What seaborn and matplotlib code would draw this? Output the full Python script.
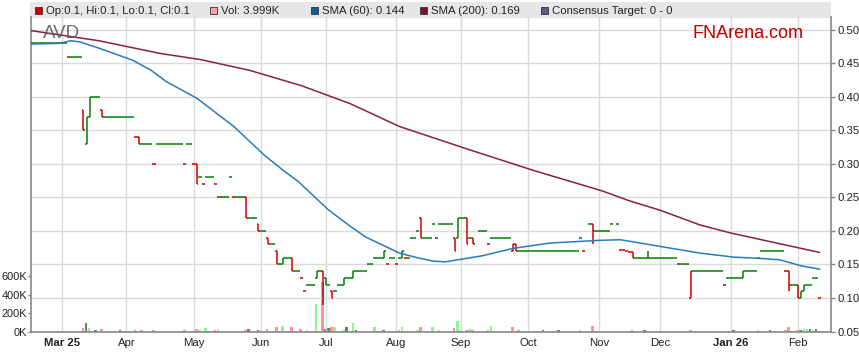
import numpy as np
import pandas as pd
import matplotlib
matplotlib.use("Agg")
import matplotlib.pyplot as plt
import matplotlib.patches as mpatches
import seaborn as sns

# one close per trading day, starting Mon 17 Feb 2025 (None = no trade)
close = [
    0.48, 0.48, 0.48, 0.48, 0.48, 0.48, 0.48, 0.48, 0.48, 0.48,
    0.48, 0.48, 0.46, 0.46, 0.46, 0.46, 0.46, 0.35, 0.37, 0.40,
    0.40, 0.40, 0.40, 0.37, 0.37, 0.37, 0.37, 0.37, 0.37, 0.37,
    0.37, 0.37, 0.37, 0.37, 0.34, 0.33, 0.33, 0.33, 0.33, 0.33,
    0.30, 0.33, 0.33, 0.33, 0.33, 0.33, 0.33, 0.33, 0.33, 0.33,
    0.30, 0.33, 0.33, 0.30, 0.27, 0.28, 0.27, 0.28, 0.28, 0.28,
    0.27, 0.25, 0.25, 0.25, 0.25, 0.28, 0.25, 0.25, 0.25, 0.25,
    0.22, 0.22, 0.22, 0.22, 0.20, 0.20, 0.20, 0.18, 0.18, 0.18,
    0.15, 0.15, 0.16, 0.16, 0.16, 0.14, 0.14, 0.14, 0.13, 0.11,
    0.12, 0.12, 0.12, 0.14, 0.14, 0.12, 0.12, 0.12, 0.10, 0.11,
    0.12, 0.12, 0.13, 0.13, 0.13, 0.14, 0.14, 0.14, 0.14, 0.14,
    0.15, 0.15, 0.16, 0.16, 0.16, 0.17, 0.15, 0.16, 0.16, 0.15,
    0.16, 0.17, 0.16, 0.16, 0.19, 0.19, 0.20, 0.19, 0.19, 0.19,
    0.19, 0.21, 0.19, 0.21, 0.21, 0.21, 0.21, 0.21, 0.17, 0.22,
    0.22, 0.22, 0.18, 0.19, 0.18, None, 0.20, 0.20, 0.20, 0.18,
    0.19, 0.19, 0.19, 0.19, 0.19, 0.19, 0.19, 0.18, 0.17, 0.17,
    0.17, 0.17, 0.17, 0.17, 0.17, 0.17, 0.17, 0.17, 0.17, 0.17,
    0.17, 0.17, 0.17, 0.17, 0.17, 0.17, 0.17, 0.17, 0.17, 0.19,
    0.17, None, 0.21, 0.20, 0.20, 0.20, 0.20, 0.20, 0.20, 0.21,
    None, 0.21, 0.172, 0.171, 0.170, 0.169, 0.16, 0.16, 0.16, 0.16,
    0.16, 0.16, 0.16, 0.16, 0.16, 0.16, 0.16, 0.16, 0.16, 0.16,
    0.16, 0.15, 0.15, 0.15, 0.15, 0.14, 0.14, 0.14, 0.14, 0.14,
    0.14, 0.14, 0.14, 0.14, 0.14, 0.14, 0.12, 0.13, 0.13, 0.13,
    0.13, 0.13, 0.14, 0.14, 0.14, 0.14, 0.14, 0.16, 0.17, 0.17,
    0.17, 0.17, 0.17, 0.17, 0.17, 0.17, 0.14, 0.12, 0.12, 0.12,
    0.10, 0.11, 0.12, 0.12, 0.12, 0.13, 0.13, 0.10,
]

# days where the open was not the close
open_px = {17: 0.38, 18: 0.33, 19: 0.37, 23: 0.38, 35: 0.34, 54: 0.30,
           70: 0.25, 74: 0.21, 77: 0.19, 80: 0.17, 82: 0.15, 85: 0.16,
           93: 0.13, 95: 0.14, 96: 0.13, 98: 0.11, 102: 0.12, 105: 0.13,
           115: 0.16, 121: 0.16, 127: 0.22, 138: 0.19, 139: 0.19, 142: 0.22,
           144: 0.19, 157: 0.17, 158: 0.18, 183: 0.21, 196: 0.169, 215: 0.10,
           232: 0.13, 247: 0.14, 250: 0.12, 251: 0.10, 252: 0.11}
extra_high = {201: 0.17}
extra_low = {95: 0.09, 183: 0.18, 247: 0.11}

# volume (thousands), p = down, g = up, n = unchanged
vol_day = [17, 18, 19, 21, 23, 29, 34, 36, 40, 50,
           54, 55, 57, 58, 60, 61, 70, 71, 74, 75,
           77, 80, 82, 85, 88, 90, 93, 95, 96, 97,
           98, 99, 102, 103, 105, 106, 112, 115, 120, 121,
           126, 127, 131, 133, 138, 139, 140, 142, 143, 144,
           149, 150, 157, 159, 167, 172, 179, 183, 196, 200,
           215, 229, 237, 241, 246, 247, 250, 251, 252, 253,
           254, 255, 256, 257]
vol_k = [40, 95, 35, 12, 25, 20, 12, 20, 20, 12,
         25, 12, 40, 10, 12, 12, 12, 25, 12, 20,
         25, 45, 65, 45, 25, 12, 300, 540, 25, 35,
         50, 50, 12, 50, 95, 12, 45, 20, 12, 45,
         12, 45, 45, 12, 35, 115, 12, 12, 22, 12,
         12, 60, 45, 12, 12, 12, 12, 55, 12, 20,
         20, 12, 12, 20, 12, 50, 20, 12, 22, 30,
         30, 12, 22, 4]
vol_kind = ("p n g n p n p p p p "
            "p g g n p p p n n p "
            "p p g p p g g p n n "
            "p g g n g n g n g g "
            "g p g g p g g p g p "
            "p g p p n n g p p n "
            "p n g n p p p n g g "
            "n g n p").split()

sma60_day = [0, 9, 13, 16, 22, 33, 39, 44, 54, 66, 76, 82, 87, 97, 104, 109, 115,
             120, 126, 131, 135, 139, 147, 157, 169, 185, 192, 205, 218, 229, 238,
             244, 251, 257]
sma60 = [0.479, 0.480, 0.484, 0.482, 0.473, 0.455, 0.440, 0.423, 0.398, 0.356,
         0.313, 0.291, 0.274, 0.231, 0.207, 0.191, 0.178, 0.167, 0.160, 0.155,
         0.154, 0.157, 0.163, 0.174, 0.182, 0.186, 0.187, 0.177, 0.167, 0.161,
         0.159, 0.157, 0.148, 0.143]
sma200_day = [0, 22, 42, 55, 71, 88, 104, 120, 143, 164, 186, 195, 205, 218, 228,
              238, 246, 257]
sma200 = [0.499, 0.484, 0.465, 0.456, 0.440, 0.417, 0.390, 0.356, 0.321, 0.290,
          0.260, 0.245, 0.231, 0.209, 0.197, 0.187, 0.179, 0.168]

price_ticks = [0.05, 0.10, 0.15, 0.20, 0.25, 0.30, 0.35, 0.40, 0.45, 0.50]
vol_ticks = [0, 200, 400, 600]

header = [("#cc0000", "Op:0.1, Hi:0.1, Lo:0.1, Cl:0.1", 35),
          ("#ff9f9f", "Vol: 3.999K", 210),
          ("#0d5f9e", "SMA (60): 0.144", 311),
          ("#7a0f2e", "SMA (200): 0.169", 420),
          ("#5b5b85", "Consensus Target: 0 - 0", 541)]

RED = "#d00000"
GREEN = "#008000"
VOL_COL = {"p": "#ff9494", "g": "#8ef78e", "n": "#777777"}

sns.set_style("white")
plt.rcParams["font.family"] = ["Liberation Sans", "DejaVu Sans"]

W, H = 859, 363
fig = plt.figure(figsize=(W / 100, H / 100), dpi=100)
ax = fig.add_axes([31 / W, (H - 331.5) / H, 800 / W, 314.5 / H])
vax = ax.twinx()
vax.set_zorder(0)
ax.set_zorder(1)
ax.patch.set_visible(False)

# volume
vdf = pd.DataFrame({"day": vol_day, "vol": np.array(vol_k) * 1000.0, "kind": vol_kind})
vax.bar(vdf["day"] - 0.15, vdf["vol"], width=0.85, color=vdf["kind"].map(VOL_COL),
        linewidth=0)
vax.set_ylim(0, 3.41e6)
vax.set_yticks([v * 1000 for v in vol_ticks])
vax.set_yticklabels([f"{v}K" for v in vol_ticks])

# price bars
vx, vlo, vhi, vcol = [], [], [], []
hy, hx0, hx1, hcol = [], [], [], []
prev = None
for i, c in enumerate(close):
    if c is None:
        continue
    o = open_px.get(i, c)
    hi = max(o, c, extra_high.get(i, c))
    lo = min(o, c, extra_low.get(i, c))
    col = RED if (prev is not None and c < prev) else GREEN
    prev = c
    if hi > lo:
        vx.append(i); vlo.append(lo); vhi.append(hi); vcol.append(col)
    hy += [o, c]; hx0 += [i - 0.5, i]; hx1 += [i, i + 0.5]; hcol += [col, col]
ax.hlines(hy, hx0, hx1, colors=hcol, linewidth=1.1, zorder=3)
ax.vlines(vx, vlo, vhi, colors=vcol, linewidth=1.1, zorder=3)

sns.lineplot(x=sma60_day, y=sma60, color="#2b7bb9", linewidth=1.1, ax=ax, zorder=4)
sns.lineplot(x=sma200_day, y=sma200, color="#8a1f45", linewidth=1.1, ax=ax, zorder=4)

# axes
dates = pd.bdate_range("2025-02-17", periods=len(close))
tick_pos, tick_lab = [], []
for i in range(1, len(dates)):
    if dates[i].month != dates[i - 1].month:
        tick_pos.append(i)
        if dates[i].month == 1 or not tick_lab:
            tick_lab.append(dates[i].strftime("%b %y"))
        else:
            tick_lab.append(dates[i].strftime("%b"))
ax.set_xticks(tick_pos)
ax.set_xticklabels(tick_lab)
for t in ax.get_xticklabels():
    if " " in t.get_text():
        t.set_fontweight("bold")
ax.set_xlim(-0.1, 260.7)
ax.set_ylim(0.05, 0.5194)
ax.set_yticks(price_ticks)
ax.set_yticklabels([f"{p:.2f}" for p in price_ticks])
ax.yaxis.tick_right()
vax.yaxis.tick_left()
ax.grid(True, color="#dadada", linewidth=1)
vax.grid(False)
for sp in ["left", "right", "bottom"]:
    ax.spines[sp].set_color("#888888")
    ax.spines[sp].set_linewidth(1.2)
ax.spines["top"].set_visible(False)
for sp in vax.spines.values():
    sp.set_visible(False)
ax.tick_params(axis="both", direction="out", length=3, width=1, color="#888888",
               labelsize=8.2, labelcolor="#222222", pad=2)
vax.tick_params(axis="y", direction="out", length=2.5, width=1, color="#888888",
                labelsize=7.9, labelcolor="#222222", pad=0.5)
ax.set_xlabel("")
ax.set_ylabel("")

# header bar
fig.patches.append(mpatches.Rectangle((30 / W, 1 - 18 / H), 801 / W, 16 / H,
                                      transform=fig.transFigure, facecolor="#e6e6e6",
                                      edgecolor="none", zorder=0))
for col, txt, x in header:
    fig.patches.append(mpatches.Rectangle((x / W, 1 - 14 / H), 7 / W, 7 / H,
                                          transform=fig.transFigure, facecolor=col,
                                          edgecolor="#333333", linewidth=0.6))
    fig.text((x + 11) / W, 1 - 10.5 / H, txt, fontsize=8.2, color="#222222", va="center")

fig.text(43 / W, 1 - 38 / H, "AVD", fontsize=13.5, color="#555555", alpha=0.85, zorder=5)
fig.text(693 / W, 1 - 38 / H, "FNArena.com", fontsize=13, color="#c00000", zorder=5)

fig.savefig("out.png", dpi=100)
